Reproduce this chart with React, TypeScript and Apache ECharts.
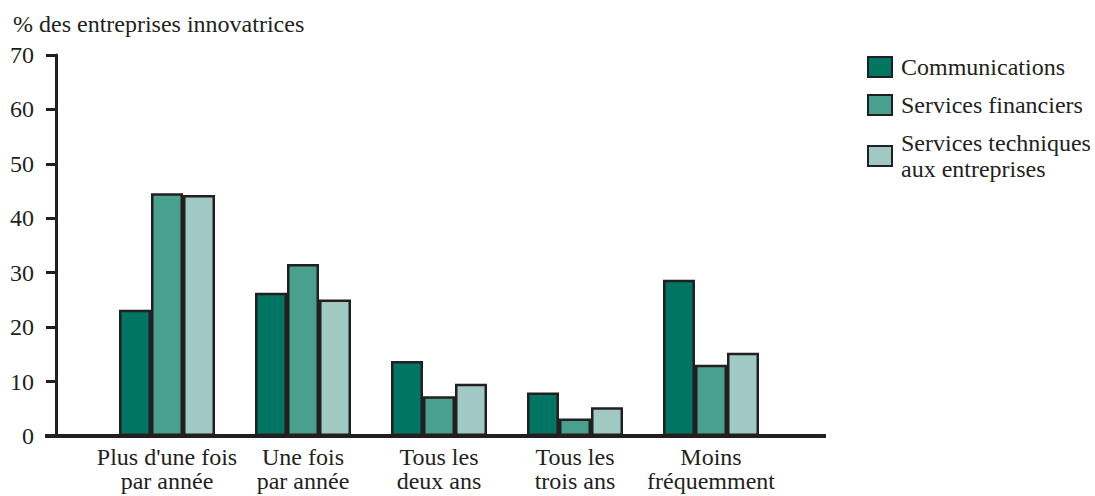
import React, { useEffect, useRef } from "react";
import * as echarts from "echarts";

const categories = [
  "Plus d'une fois\npar année",
  "Une fois\npar année",
  "Tous les\ndeux ans",
  "Tous les\ntrois ans",
  "Moins\nfréquemment",
];
const seriesNames = [
  "Communications",
  "Services financiers",
  "Services techniques aux entreprises",
];
const communications = [23.2, 26.3, 13.8, 8.0, 28.7];
const servicesFinanciers = [44.6, 31.6, 7.3, 3.2, 13.1];
const servicesTechniques = [44.3, 25.1, 9.6, 5.3, 15.3];
const yTicks = { min: 0, max: 70, interval: 10 };
const colors = ["#007662", "#49a08f", "#a0c9c3"];

const FONT = "Liberation Serif";
const TEXT = "#231f20";

export default function App() {
  const ref = useRef<HTMLDivElement>(null);
  useEffect(() => {
    if (!ref.current) return;
    const chart = echarts.init(ref.current, null, { renderer: "svg" });
    const values = [communications, servicesFinanciers, servicesTechniques];
    chart.setOption({
      animation: false,
      backgroundColor: "#ffffff",
      textStyle: { fontFamily: FONT, color: TEXT },
      title: {
        text: "% des entreprises innovatrices",
        left: 8,
        top: 7,
        textStyle: { fontFamily: FONT, fontSize: 24, fontWeight: "normal", color: TEXT },
      },
      legend: {
        orient: "vertical",
        left: 862,
        top: 49,
        itemWidth: 24,
        itemHeight: 20,
        itemGap: 12,
        icon: "rect",
        data: seriesNames,
        formatter: (n: string) => n.replace("techniques aux", "techniques\naux"),
        textStyle: { fontFamily: FONT, fontSize: 24, color: TEXT, lineHeight: 26, padding: [0, 0, 0, 4] },
      },
      grid: { left: 99, right: 316, top: 55, bottom: 60, outerBoundsMode: "none", containLabel: false },
      xAxis: {
        type: "category",
        data: categories,
        axisLine: { show: false },
        axisTick: { show: false },
        axisLabel: {
          fontFamily: FONT,
          fontSize: 24,
          color: TEXT,
          lineHeight: 24,
          margin: 9,
          interval: 0,
        },
      },
      yAxis: {
        type: "value",
        min: yTicks.min,
        max: yTicks.max,
        interval: yTicks.interval,
        offset: 43,
        splitLine: { show: false },
        axisLine: { show: true, lineStyle: { color: "#231f20", width: 3 } },
        axisTick: { show: true, length: 10, lineStyle: { color: "#231f20", width: 3 } },
        axisLabel: { fontFamily: FONT, fontSize: 24, color: TEXT, margin: 22 },
      },
      graphic: [
        {
          type: "line",
          shape: { x1: 45, y1: 436, x2: 826, y2: 436 },
          style: { stroke: "#231f20", lineWidth: 4 },
          z: 100,
        },
      ],
      series: seriesNames.map((name, i) => ({
        name,
        type: "bar",
        data: values[i],
        barGap: "0%",
        barCategoryGap: "29.4%",
        itemStyle: { color: colors[i], borderColor: "#231f20", borderWidth: 2.5 },
      })),
    });
    return () => chart.dispose();
  }, []);
  return (
    <div
      ref={ref}
      style={{ position: "fixed", left: 0, top: 0, width: 1095, height: 496 }}
    />
  );
}
